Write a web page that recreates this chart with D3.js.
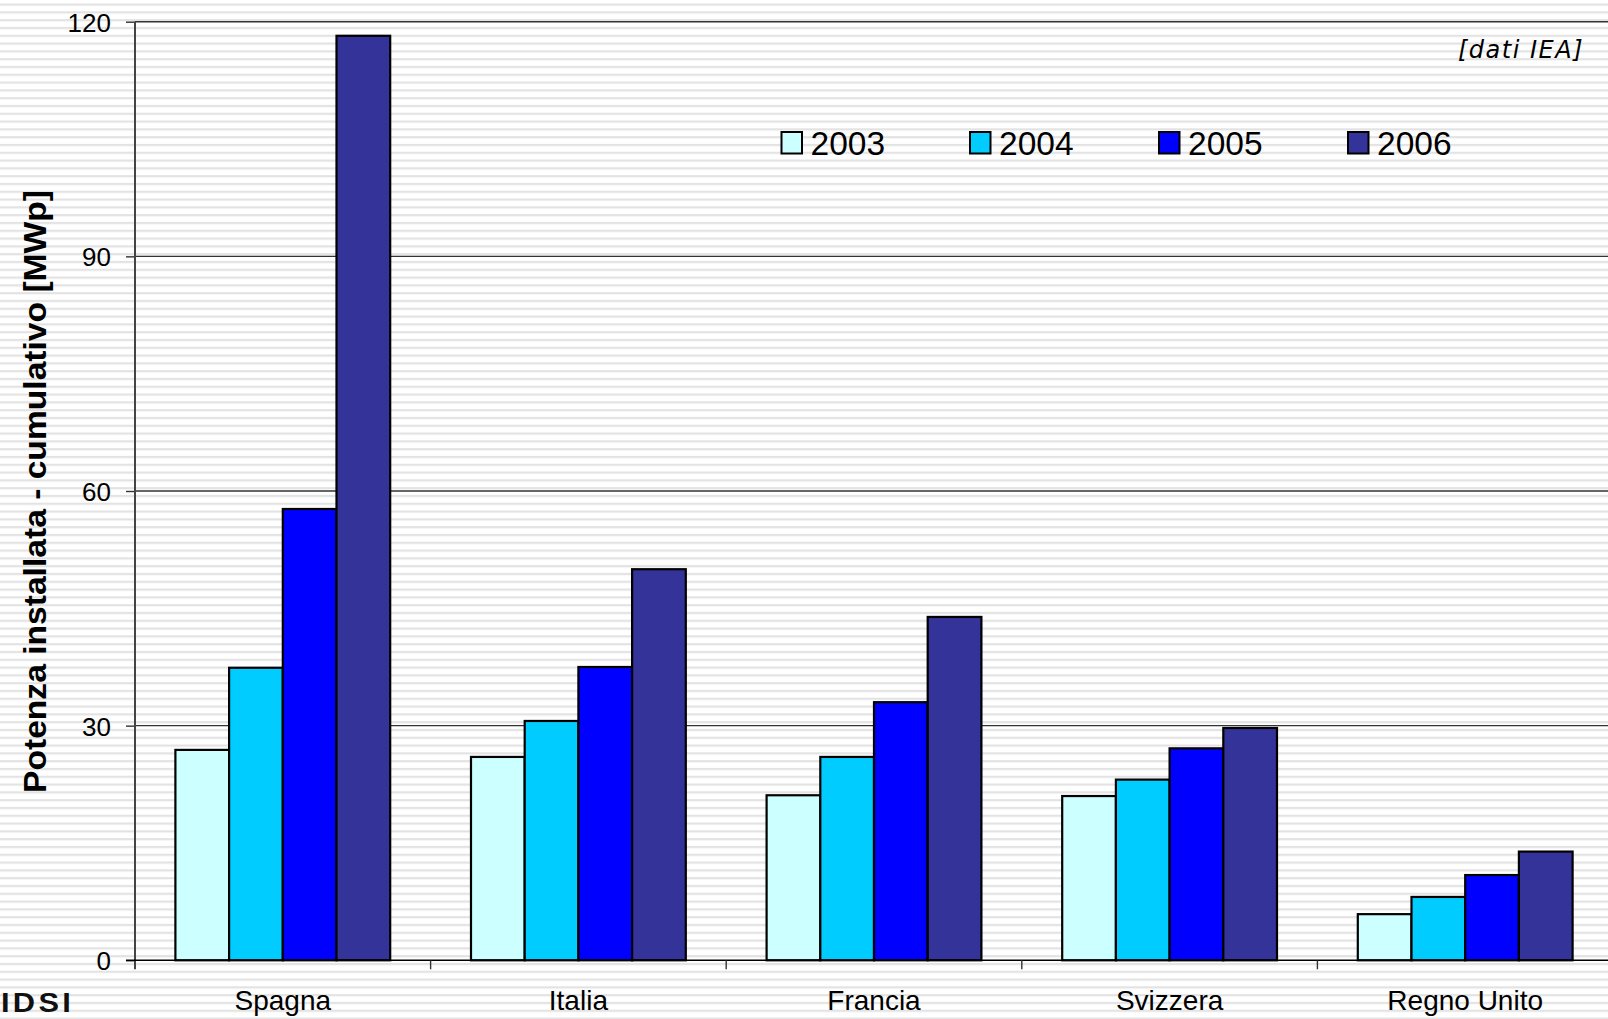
<!DOCTYPE html>
<html>
<head>
<meta charset="utf-8">
<script src="https://cdn.jsdelivr.net/npm/d3@7"></script>
<style>
  html, body { margin: 0; padding: 0; background: #fff; overflow: hidden; }
  svg { display: block; }
</style>
</head>
<body>
<svg id="chart" width="1608" height="1019"></svg>
<script>
// ---- Data ----
const categories = ["Spagna", "Italia", "Francia", "Svizzera", "Regno Unito"];
const years = ["2003", "2004", "2005", "2006"];
const values2003 = [26.9, 26.0, 21.1, 21.0, 5.9];
const values2004 = [37.4, 30.6, 26.0, 23.1, 8.1];
const values2005 = [57.7, 37.5, 33.0, 27.1, 10.9];
const values2006 = [118.2, 50.0, 43.9, 29.7, 13.9];
const yTicks = [0, 30, 60, 90, 120];
const colors = ["#CCFFFF", "#00CCFF", "#0000FF", "#333399"];

const series = [values2003, values2004, values2005, values2006];

const svg = d3.select("#chart");
const W = 1608, H = 1019;
const left = 135, catW = 295.6, right = left + catW * categories.length;
const yBottom = 960.3, yTop = 21.7;

// background stripes
const defs = svg.append("defs");
const pat = defs.append("pattern").attr("id", "stripes")
  .attr("patternUnits", "userSpaceOnUse").attr("width", 16).attr("height", 7.8)
  .attr("y", 3.5);
pat.append("rect").attr("width", 16).attr("height", 7.8).attr("fill", "#ffffff");
pat.append("rect").attr("y", 0).attr("width", 16).attr("height", 2.2).attr("fill", "#e3e3e3");
svg.append("rect").attr("width", W).attr("height", H).attr("fill", "url(#stripes)");

const y = d3.scaleLinear().domain([0, 120]).range([yBottom, yTop]);
const x0 = d3.scaleBand().domain(categories).range([left, right]).padding(0);
const x1 = d3.scaleBand().domain(years).range([40.4, catW - 40.4]).padding(0);

// gridlines
svg.append("g").selectAll("line").data(yTicks.filter(d => d > 0)).join("line")
  .attr("x1", left).attr("x2", right)
  .attr("y1", d => y(d)).attr("y2", d => y(d))
  .attr("stroke", "#333").attr("stroke-width", 1.4);

// bars
const groups = svg.append("g").selectAll("g").data(categories).join("g")
  .attr("transform", c => `translate(${x0(c)},0)`);
groups.selectAll("rect").data((c, i) => years.map((yr, j) => ({ yr, v: series[j][i], j })))
  .join("rect")
  .attr("x", d => x1(d.yr))
  .attr("width", x1.bandwidth())
  .attr("y", d => y(d.v))
  .attr("height", d => y(0) - y(d.v))
  .attr("fill", d => colors[d.j])
  .attr("stroke", "#000").attr("stroke-width", 2.2);

// y axis
const yAxis = d3.axisLeft(y).tickValues(yTicks).tickSize(9).tickPadding(15).tickFormat(d3.format("d"));
const ya = svg.append("g").attr("transform", `translate(${left},0)`).call(yAxis);
ya.select(".domain").remove();
ya.selectAll(".tick line").attr("stroke", "#333").attr("stroke-width", 1.4);
ya.selectAll(".tick text").attr("font-family", "'Liberation Sans', Arial, sans-serif")
  .attr("font-size", 26).attr("fill", "#000").attr("dy", "0.36em");
svg.append("line").attr("x1", left).attr("x2", left).attr("y1", yTop).attr("y2", yBottom + 9)
  .attr("stroke", "#444").attr("stroke-width", 2);

// x axis
const xa = svg.append("g");
xa.append("line").attr("x1", left - 9).attr("x2", right).attr("y1", yBottom).attr("y2", yBottom)
  .attr("stroke", "#000").attr("stroke-width", 1.6);
xa.selectAll(".xt").data(categories.slice(1).concat(["_end"])).join("line").attr("class", "xt")
  .attr("x1", (c, i) => left + catW * (i + 1)).attr("x2", (c, i) => left + catW * (i + 1))
  .attr("y1", yBottom).attr("y2", yBottom + 9)
  .attr("stroke", "#333").attr("stroke-width", 1.4);
xa.selectAll("text").data(categories).join("text")
  .attr("x", c => x0(c) + x0.bandwidth() / 2).attr("y", 1010)
  .attr("text-anchor", "middle")
  .attr("font-family", "'Liberation Sans', Arial, sans-serif").attr("font-size", 28)
  .attr("fill", "#000").text(c => c);

// y title
svg.append("text").attr("transform", "translate(46,491.5) rotate(-90)")
  .attr("text-anchor", "middle")
  .attr("font-family", "'Liberation Sans', Arial, sans-serif").attr("font-weight", "bold")
  .attr("font-size", 31).attr("fill", "#000")
  .attr("textLength", 603).attr("lengthAdjust", "spacingAndGlyphs")
  .text("Potenza installata - cumulativo [MWp]");

// legend
const legX = [781.5, 970, 1159, 1348];
const leg = svg.append("g").selectAll("g").data(years).join("g")
  .attr("transform", (d, i) => `translate(${legX[i]},132)`);
leg.append("rect").attr("width", 20.5).attr("height", 21.5)
  .attr("fill", (d, i) => colors[i]).attr("stroke", "#000").attr("stroke-width", 2);
leg.append("text").attr("x", 29).attr("y", 22.5)
  .attr("font-family", "'Liberation Sans', Arial, sans-serif").attr("font-size", 33.5)
  .attr("fill", "#000").text(d => d);

// source note
svg.append("text").attr("x", 1584).attr("y", 58).attr("text-anchor", "end")
  .attr("font-family", "'DejaVu Sans', Verdana, sans-serif").attr("font-style", "italic")
  .attr("font-size", 24).attr("letter-spacing", 1.5).attr("fill", "#000")
  .text("[dati IEA]");

// logo at bottom-left
svg.append("text").attr("transform", "translate(1,1012) scale(1.1,1)")
  .attr("font-family", "'Liberation Sans', Arial, sans-serif").attr("font-weight", "bold")
  .attr("font-size", 28).attr("letter-spacing", 3).attr("fill", "#111").text("IDSI");
</script>
</body>
</html>
